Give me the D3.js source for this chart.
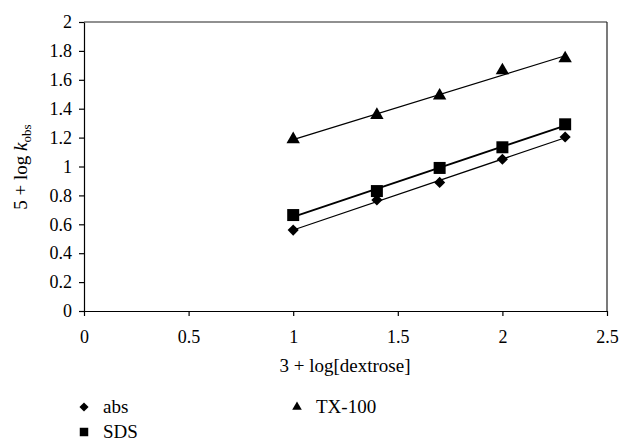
<!DOCTYPE html>
<html lang="en">
<head>
    <meta charset="UTF-8">
    <script src="https://cdn.jsdelivr.net/npm/d3@7"></script>
    <title>log k_obs vs log[dextrose]</title>
    <style>
        body {
            margin: 0;
            background: #ffffff;
        }

        svg {
            display: block;
        }

        .axis path, .axis line {
            stroke: #000;
            stroke-width: 1.2;
        }
    </style>
</head>
<body>
<svg width="621" height="441"></svg>

<script>
    const WIDTH = 621;
    const HEIGHT = 441;
    const LEFT = 84;
    const RIGHT = 607;
    const TOP = 22;
    const BOTTOM = 311;
    const FONT = "'Liberation Serif', 'Times New Roman', serif";

    // data
    const xValues = [1, 1.4, 1.7, 2.0, 2.3];
    const absValues = [0.56, 0.768, 0.89, 1.05, 1.204];
    const sdsValues = [0.664, 0.83, 0.99, 1.133, 1.292];
    const txValues = [1.188, 1.356, 1.49, 1.665, 1.748];

    const seriesNames = ["abs", "SDS", "TX-100"];
    const xTicks = [0, 0.5, 1, 1.5, 2, 2.5];
    const yTicks = [0, 0.2, 0.4, 0.6, 0.8, 1, 1.2, 1.4, 1.6, 1.8, 2];

    const svg = d3.select("svg")
        .attr("font-family", FONT);

    function init() {
        const [x, y] = makeScales();
        drawAxes(x, y);
        drawSeries(x, y);
        drawLegend();
        drawLabels();
    }

    function makeScales() {
        const x = d3.scaleLinear()
            .domain([0, 2.5])
            .range([LEFT, RIGHT]);

        const y = d3.scaleLinear()
            .domain([0, 2])
            .range([BOTTOM, TOP]);

        return [x, y];
    }

    function markerPath(name, big) {
        if (name === "abs") {
            return d3.symbol().type(d3.symbolSquare).size(big ? 62 : 42)();
        }
        if (name === "SDS") {
            return d3.symbol().type(d3.symbolSquare).size(big ? 144 : 72)();
        }
        return d3.symbol().type(d3.symbolTriangle).size(big ? 78 : 40)();
    }

    function markerTransform(name, px, py) {
        return name === "abs"
            ? `translate(${px},${py}) rotate(45)`
            : `translate(${px},${py})`;
    }

    function drawAxes(x, y) {
        // frame: top and right
        svg.append("line")
            .attr("x1", LEFT).attr("x2", RIGHT)
            .attr("y1", TOP).attr("y2", TOP)
            .attr("stroke", "#222").attr("stroke-width", 1.2);
        svg.append("line")
            .attr("x1", RIGHT).attr("x2", RIGHT)
            .attr("y1", TOP).attr("y2", BOTTOM)
            .attr("stroke", "#222").attr("stroke-width", 1.2);

        const left = svg.append("g")
            .attr("class", "axis left")
            .attr("transform", `translate(${LEFT}, 0)`)
            .call(d3.axisLeft(y)
                .tickValues(yTicks)
                .tickFormat(d => String(d))
                .tickSize(5)
                .tickSizeOuter(0)
                .tickPadding(7));

        const bottom = svg.append("g")
            .attr("class", "axis bottom")
            .attr("transform", `translate(0, ${BOTTOM})`)
            .call(d3.axisBottom(x)
                .tickValues(xTicks)
                .tickFormat(d => String(d))
                .tickSize(5)
                .tickSizeOuter(0)
                .tickPadding(14));

        [left, bottom].forEach(g => {
            g.attr("font-family", FONT).attr("font-size", 18);
            g.selectAll("text").attr("fill", "#000");
        });
    }

    function regression(xs, ys) {
        const mx = d3.mean(xs);
        const my = d3.mean(ys);
        const sxy = d3.sum(xs, (v, i) => (v - mx) * (ys[i] - my));
        const sxx = d3.sum(xs, v => (v - mx) * (v - mx));
        const slope = sxy / sxx;
        return v => my + slope * (v - mx);
    }

    function drawSeries(x, y) {
        const allValues = [absValues, sdsValues, txValues];
        const [x0, x1] = d3.extent(xValues);

        allValues.forEach((vals, k) => {
            const name = seriesNames[k];
            const fit = regression(xValues, vals);

            svg.append("line")
                .attr("class", "trend")
                .attr("x1", x(x0)).attr("y1", y(fit(x0)))
                .attr("x2", x(x1)).attr("y2", y(fit(x1)))
                .attr("stroke", "#000")
                .attr("stroke-width", name === "SDS" ? 1.9 : 1.2);
        });

        allValues.forEach((vals, k) => {
            const name = seriesNames[k];
            svg.append("g")
                .attr("class", "points " + name)
                .selectAll("path")
                .data(vals)
                .enter()
                .append("path")
                .attr("d", markerPath(name, true))
                .attr("transform", (d, i) => markerTransform(name, x(xValues[i]), y(d)))
                .attr("fill", "#000");
        });
    }

    function drawLegend() {
        const pos = [[84, 407], [84, 432], [297, 407]];
        const legend = svg.append("g").attr("class", "legend");

        seriesNames.forEach((name, i) => {
            const [lx, ly] = pos[i];
            legend.append("path")
                .attr("d", markerPath(name, false))
                .attr("transform", markerTransform(name, lx, ly))
                .attr("fill", "#000");
            legend.append("text")
                .attr("x", lx + 19)
                .attr("y", ly + 6)
                .attr("font-size", 19)
                .text(name);
        });
    }

    function drawLabels() {
        svg.append("text")
            .attr("x", 345)
            .attr("y", 372)
            .attr("text-anchor", "middle")
            .attr("font-size", 19)
            .text("3 + log[dextrose]");

        const yl = svg.append("text")
            .attr("transform", "translate(27, 167) rotate(-90)")
            .attr("text-anchor", "middle")
            .attr("font-size", 19);
        yl.append("tspan").text("5 + log ");
        yl.append("tspan").attr("font-style", "italic").text("k");
        yl.append("tspan")
            .attr("font-size", 13)
            .attr("dy", 4)
            .text("obs");
    }

    init();
</script>
</body>
</html>
